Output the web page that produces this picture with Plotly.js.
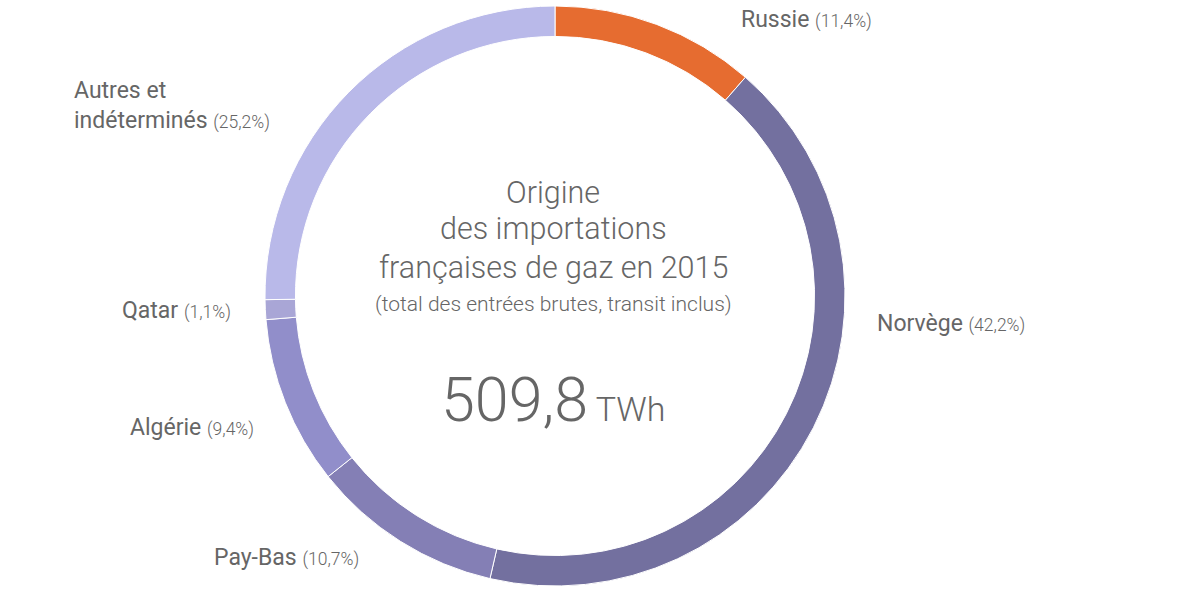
<!DOCTYPE html>
<html>
<head>
<meta charset="utf-8">
<script src="https://cdn.plot.ly/plotly-3.0.1.min.js"></script>
<style>
  html, body { margin: 0; padding: 0; background: #fff; }
  #chart { width: 1200px; height: 600px; }
</style>
</head>
<body>
<div id="chart"></div>
<script>
// origine des importations de gaz, 2015 (en % du total)
const pays = ['Russie', 'Norvège', 'Pay-Bas', 'Algérie', 'Qatar', 'Autres et<br>indéterminés'];
const parts = [11.4, 42.2, 10.7, 9.4, 1.1, 25.2];
const total = 509.8; // TWh
const couleurs = ['#e66c30', '#73709f', '#847fb5', '#918eca', '#a9a6d6', '#b9b9e9'];

const gris = '#666666';
const fmt = v => v.toFixed(1).replace('.', ',');

// position des étiquettes autour de l'anneau (pixels)
const etiquettes = [
    {x: 739, y: 20},
    {x: 875, y: 323},
    {x: 212, y: 557},
    {x: 128, y: 427},
    {x: 120, y: 310},
    {x: 72, y: 106}
];

const W = 1200, H = 600;
const px = x => x / W;
const py = y => 1 - y / H;

const annotations = pays.map((p, i) => ({
    xref: 'paper', yref: 'paper',
    x: px(etiquettes[i].x), y: py(etiquettes[i].y),
    xanchor: 'left', yanchor: 'middle', align: 'left',
    showarrow: false,
    text: p + ' <span style="font-size:17.5px;font-weight:300">(' + fmt(parts[i]) + '%)</span>',
    font: {family: 'Roboto', size: 23, color: gris, weight: 400}
}));

// texte au centre de l'anneau
const centre = [
    {y: 192, size: 30.5, text: 'Origine'},
    {y: 229, size: 30.5, text: 'des importations'},
    {y: 267, size: 30.5, text: 'françaises de gaz en 2015'},
    {y: 304, size: 21, text: '(total des entrées brutes, transit inclus)'},
    {y: 400, size: 61, text: fmt(total) + '<span style="font-size:34px"> TWh</span>'}
];
centre.forEach(c => annotations.push({
    xref: 'paper', yref: 'paper',
    x: px(553), y: py(c.y),
    xanchor: 'center', yanchor: 'middle',
    showarrow: false, text: c.text,
    font: {family: 'Roboto', size: c.size, color: gris, weight: 300}
}));

const trace = {
    type: 'pie',
    labels: pays,
    values: parts,
    sort: false,
    direction: 'clockwise',
    rotation: 0,
    hole: 0.895,
    textinfo: 'none',
    hoverinfo: 'label+percent',
    marker: {colors: couleurs, line: {color: '#ffffff', width: 1}},
    domain: {x: [px(555 - 290), px(555 + 290)], y: [py(586), py(6)]}
};

const layout = {
    width: W, height: H,
    margin: {l: 0, r: 0, t: 0, b: 0},
    paper_bgcolor: '#ffffff',
    showlegend: false,
    annotations: annotations
};

Plotly.newPlot('chart', [trace], layout, {displayModeBar: false, staticPlot: true});
</script>
</body>
</html>
